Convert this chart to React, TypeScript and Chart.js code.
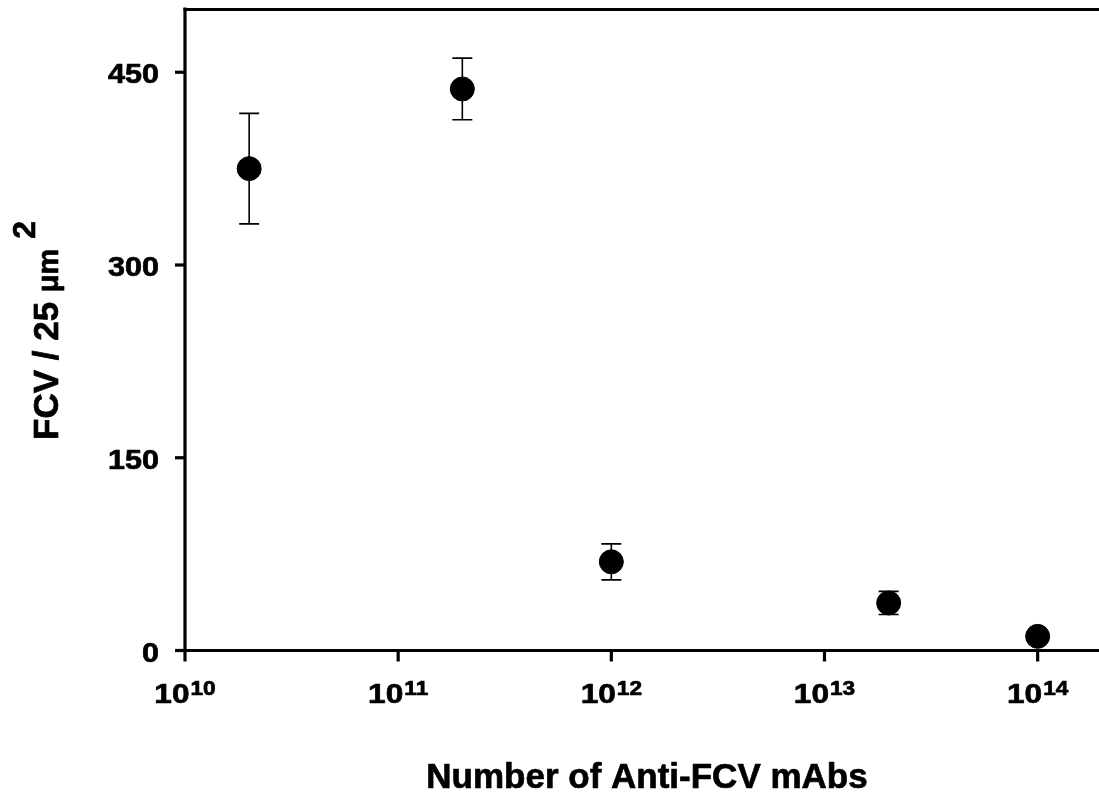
import React, { useEffect, useRef } from "react";
import { Chart, registerables } from "chart.js";

Chart.register(...registerables);

// ---- data ----
const antibodyCounts = [2e10, 2e11, 1e12, 2e13, 1e14];
const fcvCounts = [375, 437, 69, 37, 11];
const fcvErrors = [43, 24, 14, 9, 3];
const xTickExponents = [10, 11, 12, 13, 14];
const yTickValues = [0, 150, 300, 450];
const xTitle = "Number of Anti-FCV mAbs";
const yTitleMain = "FCV / 25 ";
const yTitleUnit = "\u03BCm";
const yTitleSup = "2";

const FONT = '"Liberation Sans", Arial, Helvetica, sans-serif';
const STRETCH = 1.13;
const EMBOLDEN = 0.7;

function boldText(ctx: CanvasRenderingContext2D, text: string, x: number, y: number) {
  ctx.fillText(text, x, y);
  ctx.lineWidth = EMBOLDEN;
  ctx.strokeText(text, x, y);
}

function stretchedText(ctx: CanvasRenderingContext2D, text: string, x: number, y: number, align: CanvasTextAlign) {
  ctx.save();
  ctx.translate(x, y);
  ctx.scale(STRETCH, 1);
  ctx.textAlign = align;
  boldText(ctx, text, 0, 0);
  ctx.restore();
}

const customAxes = {
  id: "customAxes",
  beforeDatasetsDraw(chart: any) {
    const ctx = chart.ctx;
    const xs = chart.scales.x;
    const ys = chart.scales.y;
    ctx.save();
    ctx.strokeStyle = "#000";
    ctx.lineWidth = 1.6;
    antibodyCounts.forEach((v, i) => {
      const px = xs.getPixelForValue(v);
      const top = ys.getPixelForValue(fcvCounts[i] + fcvErrors[i]);
      const bot = ys.getPixelForValue(fcvCounts[i] - fcvErrors[i]);
      ctx.beginPath();
      ctx.moveTo(px, top);
      ctx.lineTo(px, bot);
      ctx.moveTo(px - 10, top);
      ctx.lineTo(px + 10, top);
      ctx.moveTo(px - 10, bot);
      ctx.lineTo(px + 10, bot);
      ctx.stroke();
    });
    ctx.restore();
  },
  afterDraw(chart: any) {
    const ctx = chart.ctx;
    const xs = chart.scales.x;
    const ys = chart.scales.y;
    const { left, right, top, bottom } = chart.chartArea;
    ctx.save();
    ctx.strokeStyle = "#000";
    ctx.fillStyle = "#000";
    ctx.lineCap = "butt";
    ctx.lineJoin = "round";
    // frame
    ctx.lineWidth = 3.2;
    ctx.beginPath();
    ctx.moveTo(left, top - 0.5);
    ctx.lineTo(left, bottom + 1.5);
    ctx.stroke();
    ctx.beginPath();
    ctx.moveTo(left - 1.5, bottom);
    ctx.lineTo(right, bottom);
    ctx.stroke();
    ctx.beginPath();
    ctx.moveTo(left - 1.5, top + 1.5);
    ctx.lineTo(right, top + 1.5);
    ctx.stroke();

    // y ticks
    ctx.font = `bold 27px ${FONT}`;
    ctx.textBaseline = "alphabetic";
    yTickValues.forEach((v) => {
      const py = ys.getPixelForValue(v);
      ctx.lineWidth = 3.2;
      ctx.beginPath();
      ctx.moveTo(left - 10, py);
      ctx.lineTo(left, py);
      ctx.stroke();
      stretchedText(ctx, String(v), left - 26, py + 11, "right");
    });

    // x ticks
    xTickExponents.forEach((e) => {
      const px = xs.getPixelForValue(Math.pow(10, e));
      ctx.lineWidth = 3.2;
      ctx.beginPath();
      ctx.moveTo(px, bottom);
      ctx.lineTo(px, bottom + 11);
      ctx.stroke();
      ctx.font = `bold 28px ${FONT}`;
      const wBase = ctx.measureText("10").width * STRETCH;
      ctx.font = `bold 20px ${FONT}`;
      const wSup = ctx.measureText(String(e)).width * STRETCH;
      const start = px - (wBase + 1 + wSup) / 2;
      ctx.font = `bold 28px ${FONT}`;
      stretchedText(ctx, "10", start, bottom + 52.5, "left");
      ctx.font = `bold 20px ${FONT}`;
      stretchedText(ctx, String(e), start + wBase + 1, bottom + 44.5, "left");
    });

    // x title
    ctx.font = `bold 35px ${FONT}`;
    ctx.textAlign = "center";
    boldText(ctx, xTitle, (left + right) / 2 + 5, bottom + 137.5);

    // y title (rotated)
    ctx.translate(58, 440);
    ctx.rotate(-Math.PI / 2);
    ctx.textAlign = "left";
    ctx.font = `bold 35px ${FONT}`;
    boldText(ctx, yTitleMain, 0, 0);
    let off = ctx.measureText(yTitleMain).width;
    ctx.font = `bold 29px ${FONT}`;
    boldText(ctx, yTitleUnit, off, 0);
    off += ctx.measureText(yTitleUnit).width;
    ctx.font = `bold 32px ${FONT}`;
    boldText(ctx, yTitleSup, off + 10, -23);
    ctx.restore();
  },
};

export default function App() {
  const canvasRef = useRef<HTMLCanvasElement | null>(null);

  useEffect(() => {
    document.body.style.margin = "0";
    const canvas = canvasRef.current;
    if (!canvas) return;
    const chart = new Chart(canvas, {
      type: "scatter",
      data: {
        datasets: [
          {
            data: antibodyCounts.map((x, i) => ({ x, y: fcvCounts[i] })),
            pointRadius: 12,
            pointHoverRadius: 12,
            pointBackgroundColor: "#000",
            pointBorderColor: "#000",
            pointBorderWidth: 1,
            showLine: false,
          },
        ],
      },
      options: {
        animation: false,
        responsive: false,
        devicePixelRatio: 1,
        layout: { autoPadding: false, padding: { left: 185, top: 8, right: 0, bottom: 146.5 } },
        plugins: {
          legend: { display: false },
          tooltip: { enabled: false },
        },
        events: [],
        scales: {
          x: { type: "logarithmic", display: false, min: 1e10, max: 1.94e14 },
          y: { type: "linear", display: false, min: 0, max: 500 },
        },
      },
      plugins: [customAxes],
    });
    return () => chart.destroy();
  }, []);

  return (
    <div style={{ position: "absolute", left: 0, top: 0, width: 1099, height: 797, background: "#fff" }}>
      <canvas ref={canvasRef} width={1099} height={797} style={{ display: "block" }} />
    </div>
  );
}
